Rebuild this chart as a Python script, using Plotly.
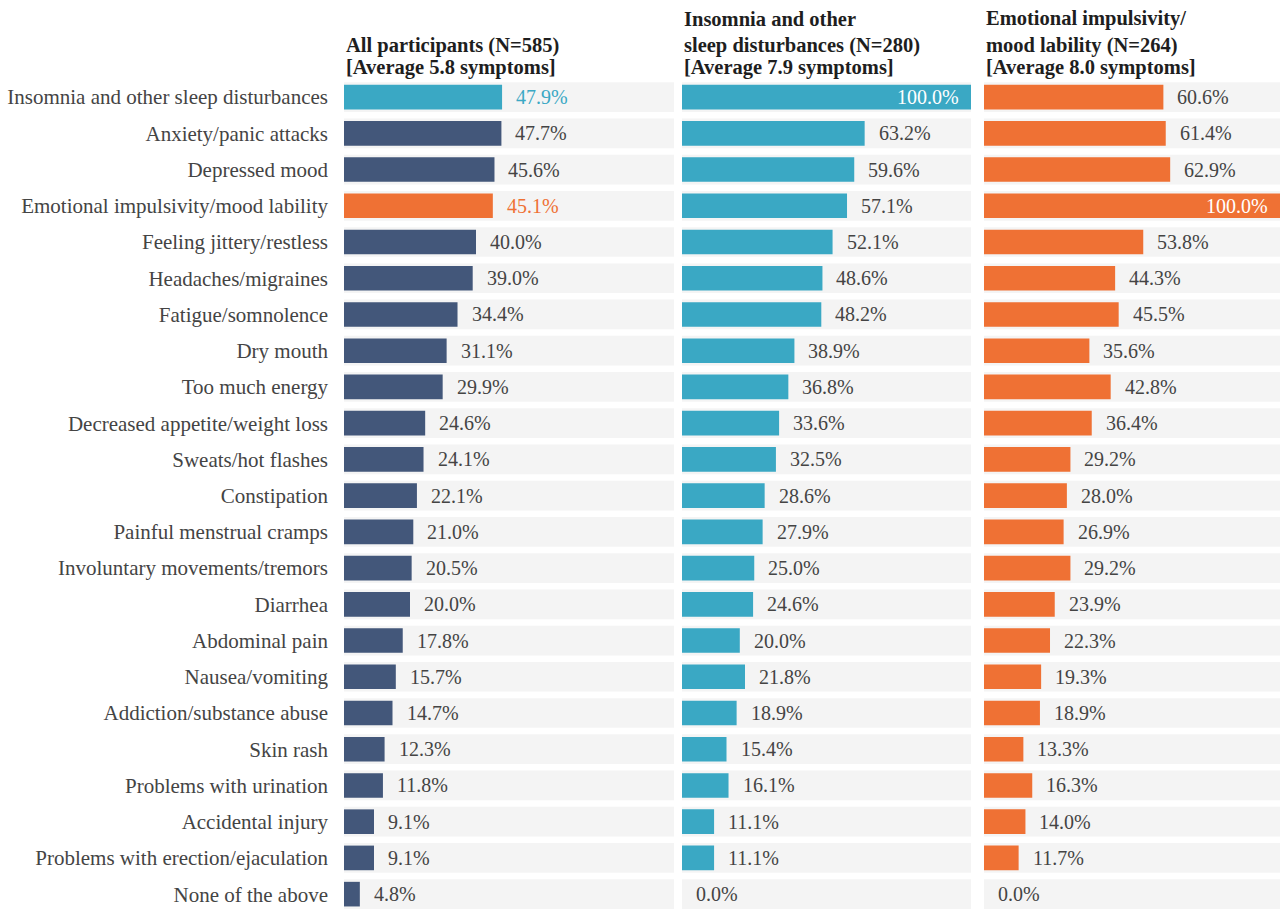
import plotly.graph_objects as go

categories = [
    "Insomnia and other sleep disturbances", "Anxiety/panic attacks", "Depressed mood",
    "Emotional impulsivity/mood lability", "Feeling jittery/restless", "Headaches/migraines",
    "Fatigue/somnolence", "Dry mouth", "Too much energy", "Decreased appetite/weight loss",
    "Sweats/hot flashes", "Constipation", "Painful menstrual cramps",
    "Involuntary movements/tremors", "Diarrhea", "Abdominal pain", "Nausea/vomiting",
    "Addiction/substance abuse", "Skin rash", "Problems with urination", "Accidental injury",
    "Problems with erection/ejaculation", "None of the above",
]
all_pct = [47.9, 47.7, 45.6, 45.1, 40.0, 39.0, 34.4, 31.1, 29.9, 24.6, 24.1, 22.1, 21.0,
           20.5, 20.0, 17.8, 15.7, 14.7, 12.3, 11.8, 9.1, 9.1, 4.8]
insomnia_pct = [100.0, 63.2, 59.6, 57.1, 52.1, 48.6, 48.2, 38.9, 36.8, 33.6, 32.5, 28.6, 27.9,
                25.0, 24.6, 20.0, 21.8, 18.9, 15.4, 16.1, 11.1, 11.1, 0.0]
emotional_pct = [60.6, 61.4, 62.9, 100.0, 53.8, 44.3, 45.5, 35.6, 42.8, 36.4, 29.2, 28.0, 26.9,
                 29.2, 23.9, 22.3, 19.3, 18.9, 13.3, 16.3, 14.0, 11.7, 0.0]
title_lines = [
    ["All participants (N=585)", "[Average 5.8 symptoms]"],
    ["Insomnia and other", "sleep disturbances (N=280)", "[Average 7.9 symptoms]"],
    ["Emotional impulsivity/", "mood lability (N=264)", "[Average 8.0 symptoms]"],
]

NAVY = "#43577a"
TEAL = "#3aa8c4"
ORANGE = "#ef7134"
BAND = "#f4f4f4"
TXT = "#444444"
FONT = "Liberation Serif"
W, H = 1280, 909

panel_px = [(344, 674), (682, 971), (984, 1280)]
title_line_px = [19, 45, 68]
rows = list(range(len(categories)))

all_colors = [NAVY] * len(categories)
all_colors[0] = TEAL
all_colors[3] = ORANGE
all_txt = [TXT] * len(categories)
all_txt[0] = TEAL
all_txt[3] = ORANGE

series = [
    (all_pct, all_colors, all_txt),
    (insomnia_pct, [TEAL] * len(categories), [TXT] * len(categories)),
    (emotional_pct, [ORANGE] * len(categories), [TXT] * len(categories)),
]

fig = go.Figure()
annotations = []
for p, (vals, cols, tcols) in enumerate(series):
    xa = "x" if p == 0 else f"x{p+1}"
    fig.add_trace(go.Bar(x=[100] * len(rows), y=rows, orientation="h", xaxis=xa, yaxis="y",
                         marker=dict(color=BAND, line=dict(width=0)), width=0.82,
                         hoverinfo="skip", showlegend=False))
    fig.add_trace(go.Bar(x=vals, y=rows, orientation="h", xaxis=xa, yaxis="y",
                         marker=dict(color=cols, line=dict(width=0)), width=0.68,
                         showlegend=False))
    for r, v in enumerate(vals):
        inside = v >= 100
        annotations.append(dict(
            x=v, y=r, xref=xa, yref="y", text=f"{v:.1f}%", showarrow=False,
            xanchor="right" if inside else "left", xshift=-10 if inside else 12,
            font=dict(family=FONT, size=20, color="white" if inside else tcols[r]),
        ))
    lines = title_lines[p]
    offs = title_line_px[len(title_line_px) - len(lines):]
    for line, ypx in zip(lines, offs):
        annotations.append(dict(
            x=panel_px[p][0] / W, y=1 - ypx / H, xref="paper", yref="paper",
            text=f"<b>{line}</b>", showarrow=False, xanchor="left", yanchor="middle",
            font=dict(family=FONT, size=20.5, color="#1e1e1e"),
        ))

layout = dict(
    width=W, height=H, autosize=False, margin=dict(l=0, r=0, t=0, b=0),
    plot_bgcolor="white", paper_bgcolor="white", barmode="overlay",
    annotations=annotations,
    yaxis=dict(range=[22.41, -2.68], tickvals=rows, ticktext=categories, showgrid=False,
               zeroline=False, showline=False, ticks="", ticklabelstandoff=15,
               tickfont=dict(family=FONT, size=21, color=TXT), automargin=False,
               domain=[0, 1], anchor="x", fixedrange=True),
)
for p in range(3):
    key = "xaxis" if p == 0 else f"xaxis{p+1}"
    layout[key] = dict(range=[0, 100], domain=[panel_px[p][0] / W, panel_px[p][1] / W],
                       showgrid=False, zeroline=False, showline=False, showticklabels=False,
                       ticks="", anchor="y", automargin=False, fixedrange=True)
fig.update_layout(**layout)
fig.write_html("out.html", config={"displayModeBar": False},
               post_script="document.body.style.margin='0';")
